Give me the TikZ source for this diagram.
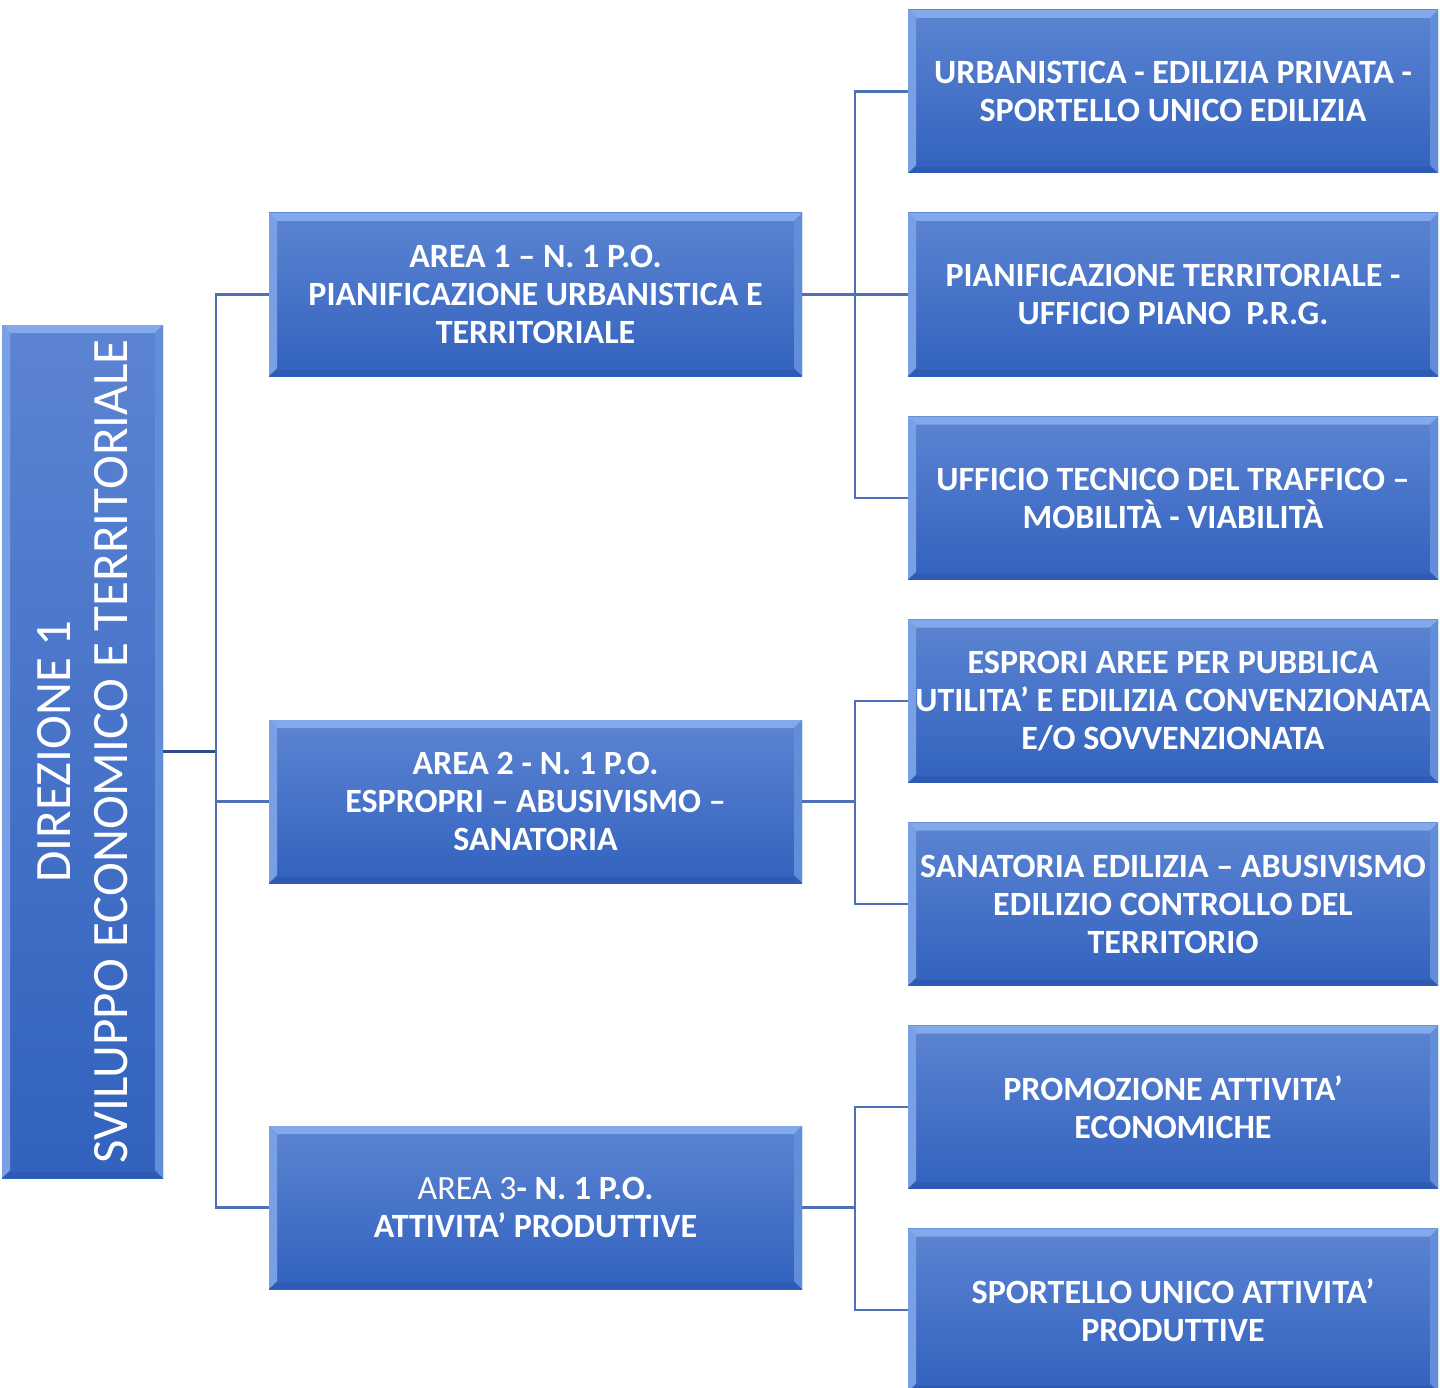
\documentclass[tikz,border=0pt]{standalone}
\usepackage{fontspec}
\setmainfont{Carlito}
\definecolor{boxtop}{RGB}{92,132,210}
\definecolor{boxbot}{RGB}{50,98,190}
\definecolor{bevlt}{RGB}{130,170,235}
\definecolor{bevdk}{RGB}{46,90,180}
\definecolor{linec}{RGB}{78,112,180}
\definecolor{linedk}{RGB}{45,75,140}
\tikzset{
  bev/.style={rectangle, inner sep=0pt, top color=boxtop, bottom color=boxbot, text=white, align=center,
    path picture={
      \fill[bevlt] (path picture bounding box.north west) -- (path picture bounding box.north east)
        -- ([xshift=-8pt,yshift=-8pt]path picture bounding box.north east) -- ([xshift=8pt,yshift=-8pt]path picture bounding box.north west) -- cycle;
      \fill[bevlt!75!boxtop] (path picture bounding box.north west) -- ([xshift=8pt,yshift=-8pt]path picture bounding box.north west)
        -- ([xshift=8pt,yshift=8pt]path picture bounding box.south west) -- (path picture bounding box.south west) -- cycle;
      \fill[bevlt!60!boxbot] (path picture bounding box.north east) -- ([xshift=-8pt,yshift=-8pt]path picture bounding box.north east)
        -- ([xshift=-8pt,yshift=8pt]path picture bounding box.south east) -- (path picture bounding box.south east) -- cycle;
      \fill[bevdk] (path picture bounding box.south west) -- ([xshift=8pt,yshift=6pt]path picture bounding box.south west)
        -- ([xshift=-8pt,yshift=6pt]path picture bounding box.south east) -- (path picture bounding box.south east) -- cycle;
    }},
  areabox/.style={bev, minimum width=533pt, minimum height=163pt, font=\fontsize{34}{38}\selectfont\bfseries},
  subbox/.style={bev, minimum width=530pt, minimum height=163pt, font=\fontsize{34}{38}\selectfont\bfseries},
  dirbox/.style={bev, minimum width=161pt, minimum height=853pt},
  conn/.style={draw=linec, line width=2.2pt},
}
\begin{document}
\begin{tikzpicture}[x=1pt,y=1pt]
\useasboundingbox (0,0) rectangle (1440,-1388);
\clip (0,0) rectangle (1440,-1388);
% direction box
\node[dirbox] (dir) at (82.5,-751.5) {};
\node[rotate=90, text=white, align=center, font=\fontsize{51}{57}\selectfont] (dirtext) at (dir.center) {DIREZIONE 1\\SVILUPPO ECONOMICO E TERRITORIALE};
% area boxes
\node[areabox] (a1) at (535.5,-294.5) {AREA 1 -- N. 1 P.O.\\PIANIFICAZIONE URBANISTICA E\\TERRITORIALE};
\node[areabox] (a2) at (535.5,-801.5) {AREA 2 - N. 1 P.O.\\ESPROPRI -- ABUSIVISMO --\\SANATORIA};
\node[areabox] (a3) at (535.5,-1207.5) {\mdseries AREA 3\bfseries- N. 1 P.O.\\ATTIVITA’ PRODUTTIVE};
% sub boxes
\node[subbox] (s1) at (1173,-91.5) {URBANISTICA - EDILIZIA PRIVATA -\\SPORTELLO UNICO EDILIZIA};
\node[subbox] (s2) at (1173,-294.5) {PIANIFICAZIONE TERRITORIALE -\\UFFICIO PIANO~~P.R.G.};
\node[subbox] (s3) at (1173,-498) {UFFICIO TECNICO DEL TRAFFICO --\\MOBILITÀ - VIABILITÀ};
\node[subbox] (s4) at (1173,-701) {ESPRORI AREE PER PUBBLICA\\UTILITA’ E EDILIZIA CONVENZIONATA\\E/O SOVVENZIONATA};
\node[subbox] (s5) at (1173,-904) {SANATORIA EDILIZIA -- ABUSIVISMO\\EDILIZIO CONTROLLO DEL\\TERRITORIO};
\node[subbox] (s6) at (1173,-1107) {PROMOZIONE ATTIVITA’\\ECONOMICHE};
\node[subbox] (s7) at (1173,-1310) {SPORTELLO UNICO ATTIVITA’\\PRODUTTIVE};
% connectors
\coordinate (busL) at (216,-751.5);
\draw[draw=linedk, line width=3pt] (dir.east) -- (busL);
\draw[conn] (a1.west) -| (busL);
\draw[conn] (a2.west) -- (a2.west -| busL);
\draw[conn] (a3.west) -| (busL);
\coordinate (b1) at (855,-294.5);
\coordinate (b2) at (855,-801.5);
\coordinate (b3) at (855,-1207.5);
\draw[conn] (a1.east) -- (b1);
\draw[conn] (s1.west) -| (b1) |- (s3.west);
\draw[conn] (s2.west) -- (b1);
\draw[conn] (a2.east) -- (b2);
\draw[conn] (s4.west) -| (b2) |- (s5.west);
\draw[conn] (a3.east) -- (b3);
\draw[conn] (s6.west) -| (b3) |- (s7.west);
\end{tikzpicture}
\end{document}
